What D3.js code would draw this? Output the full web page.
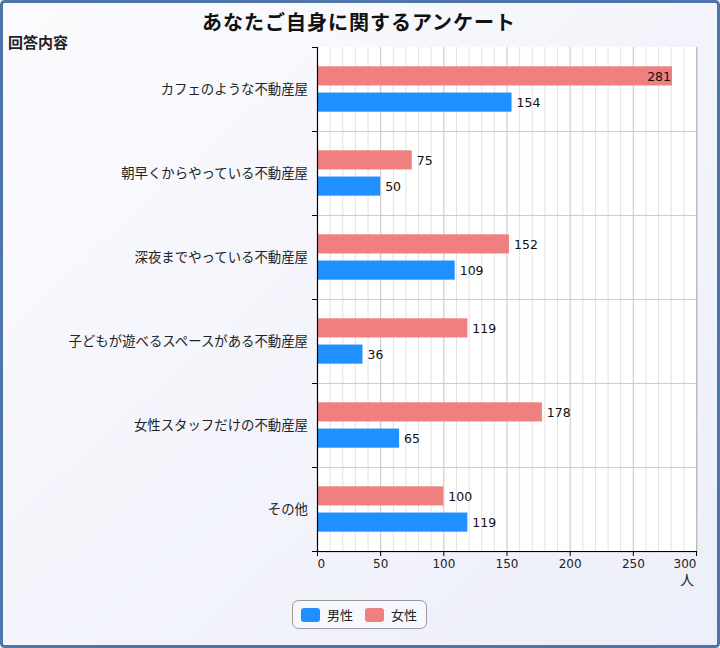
<!DOCTYPE html>
<html><head><meta charset="utf-8">
<script src="https://cdn.jsdelivr.net/npm/d3@7"></script>
<style>
html,body{margin:0;padding:0;}
body{width:720px;height:648px;overflow:hidden;}
svg{display:block;font-family:"DejaVu Sans","Noto Sans CJK JP",sans-serif;}
</style></head>
<body>
<script>
const categories = ["カフェのような不動産屋","朝早くからやっている不動産屋","深夜までやっている不動産屋","子どもが遊べるスペースがある不動産屋","女性スタッフだけの不動産屋","その他"];
const seriesNames = ["女性","男性"];
const female = [281, 75, 152, 119, 178, 100];
const male = [154, 50, 109, 36, 65, 119];
const xTicks = [0,50,100,150,200,250,300];
const colors = {"女性":"#F08080","男性":"#1E90FF"};
const legendOrder = ["男性","女性"];

const W=720,H=648;
const svg=d3.select("body").append("svg").attr("width",W).attr("height",H);
const defs=svg.append("defs");
const bg=defs.append("linearGradient").attr("id","bg").attr("x1","0").attr("y1","0").attr("x2","1").attr("y2","1");
bg.append("stop").attr("offset","0").attr("stop-color","#fbfbfe");
bg.append("stop").attr("offset","1").attr("stop-color","#eceef9");
svg.append("rect").attr("x",1.5).attr("y",1.5).attr("width",W-3).attr("height",H-3)
  .attr("rx",3).attr("fill","url(#bg)").attr("stroke","#4f74aa").attr("stroke-width",3);

const m={left:317,right:696,top:47,bottom:551};
const x=d3.scaleLinear().domain([0,300]).range([m.left,m.right]);
const y0=d3.scaleBand().domain(categories).range([m.top,m.bottom]).paddingInner(0.46).paddingOuter(0.23);
const y1=d3.scaleBand().domain(seriesNames).range([0,y0.bandwidth()]).paddingInner(0.27);
const yCat=d3.scaleBand().domain(categories).range([m.top,m.bottom]);

// plot background with shadow
svg.append("rect").attr("x",m.left+2).attr("y",m.top+2).attr("width",m.right-m.left).attr("height",m.bottom-m.top).attr("fill","#c8cad0").attr("opacity",0.6);
svg.append("rect").attr("x",m.left).attr("y",m.top).attr("width",m.right-m.left).attr("height",m.bottom-m.top).attr("fill","#fff");

// grid
const minor=d3.range(0,301,10);
svg.append("g").selectAll("line").data(minor).join("line")
  .attr("x1",d=>x(d)+0.5).attr("x2",d=>x(d)+0.5).attr("y1",m.top).attr("y2",m.bottom)
  .attr("stroke",d=>d%50===0?"#c4c4c4":"#e2e2e2").attr("stroke-width",1);
svg.append("g").selectAll("line").data(categories.slice(1)).join("line")
  .attr("x1",m.left).attr("x2",m.right).attr("y1",d=>yCat(d)+0.5).attr("y2",d=>yCat(d)+0.5)
  .attr("stroke","#cccccc");
svg.append("line").attr("x1",m.right+0.5).attr("x2",m.right+0.5).attr("y1",m.top).attr("y2",m.bottom).attr("stroke","#bbbbbb");

// bars
const data=categories.map((c,i)=>({cat:c,vals:[{s:"女性",v:female[i]},{s:"男性",v:male[i]}]}));
const g=svg.append("g").selectAll("g").data(data).join("g").attr("transform",d=>`translate(0,${y0(d.cat)})`);
g.selectAll("rect").data(d=>d.vals).join("rect")
  .attr("x",x(0)).attr("y",d=>y1(d.s)).attr("width",d=>x(d.v)-x(0)).attr("height",y1.bandwidth())
  .attr("fill",d=>colors[d.s]);
g.selectAll("text").data(d=>d.vals).join("text")
  .attr("y",d=>y1(d.s)+y1.bandwidth()/2+5)
  .attr("font-size",12.5).attr("fill","#111")
  .each(function(d){
    const t=d3.select(this).text(d.v);
    const w=this.getComputedTextLength();
    if(x(d.v)+5+w>m.right-4){t.attr("x",x(d.v)-1).attr("text-anchor","end");}
    else{t.attr("x",x(d.v)+5).attr("text-anchor","start");}
  });

// left axis
const ya=d3.axisLeft(yCat).tickSize(0).tickPadding(9);
const yg=svg.append("g").attr("transform",`translate(${m.left},0)`).call(ya);
yg.select(".domain").remove();
yg.selectAll("text").attr("font-size",13.4).attr("fill","#222").attr("font-family","Noto Sans CJK JP");
yg.selectAll("text").attr("dy","0.35em");
const bounds=categories.map(c=>yCat(c)).concat([m.bottom]);
svg.append("g").selectAll("line").data(bounds).join("line")
  .attr("x1",m.left-5).attr("x2",m.left).attr("y1",d=>Math.round(d)+0.5).attr("y2",d=>Math.round(d)+0.5)
  .attr("stroke","#000");
svg.append("line").attr("x1",m.left+0.5).attr("x2",m.left+0.5).attr("y1",m.top).attr("y2",m.bottom+1).attr("stroke","#000").attr("stroke-width",1.2);

// bottom axis
const xa=d3.axisBottom(x).tickValues(xTicks).tickSize(5).tickSizeOuter(0).tickPadding(3);
const xg=svg.append("g").attr("transform",`translate(0,${m.bottom})`).call(xa);
xg.select(".domain").attr("stroke","#000").attr("stroke-width",1.2);
xg.selectAll("text").attr("font-size",12).attr("fill","#222").attr("font-family","DejaVu Sans")
  .attr("text-anchor",(d,i)=>i===0?"start":(i===xTicks.length-1?"end":"middle"));
svg.append("text").attr("x",687).attr("y",585).attr("text-anchor","middle").attr("font-size",14).attr("fill","#222").attr("font-family","Noto Sans CJK JP").text("人");

// titles
svg.append("text").attr("x",359).attr("y",30).attr("text-anchor","middle").attr("font-size",20).attr("letter-spacing",1).attr("font-weight","bold").attr("fill","#111").attr("font-family","Noto Sans CJK JP").text("あなたご自身に関するアンケート");
svg.append("text").attr("x",8).attr("y",48).attr("font-size",15).attr("font-weight","bold").attr("fill","#222").attr("font-family","Noto Sans CJK JP").text("回答内容");

// legend
const lg=svg.append("g");
lg.append("rect").attr("x",292.5).attr("y",600.5).attr("width",134).attr("height",28).attr("rx",6).attr("fill","#f7f8fd").attr("stroke","#999");
const items=lg.selectAll("g").data(legendOrder).join("g").attr("transform",(d,i)=>`translate(${301+i*64},608)`);
items.append("rect").attr("width",19).attr("height",14).attr("rx",3).attr("fill",d=>colors[d]);
items.append("text").attr("x",26).attr("y",12).attr("font-size",13).attr("fill","#222").attr("font-family","Noto Sans CJK JP").text(d=>d);
</script>
</body></html>
